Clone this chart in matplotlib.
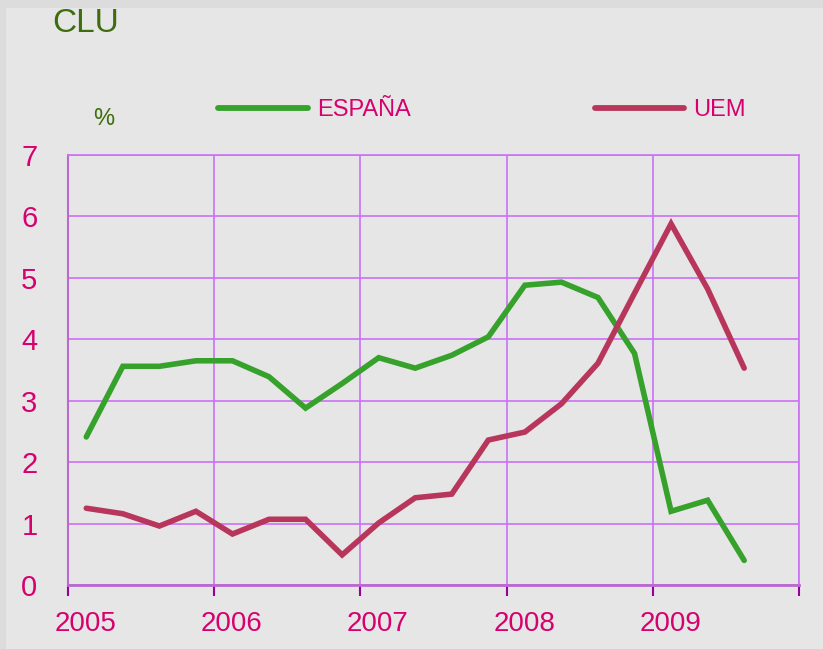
import matplotlib
matplotlib.use("Agg")
from matplotlib import pyplot as plt
from matplotlib.patches import Rectangle
from matplotlib.lines import Line2D
import numpy as np

# quarterly series, centred inside each quarter
quarters = [2005.125 + 0.25 * i for i in range(19)]
espana = [2.41, 3.56, 3.56, 3.65, 3.65, 3.39, 2.88, 3.28, 3.70, 3.53,
          3.74, 4.04, 4.88, 4.93, 4.68, 3.77, 1.20, 1.38, 0.40]
uem = [1.25, 1.16, 0.96, 1.20, 0.83, 1.07, 1.07, 0.49, 1.01, 1.42,
       1.48, 2.36, 2.49, 2.95, 3.61, 4.75, 5.88, 4.82, 3.53]
years = [2005, 2006, 2007, 2008, 2009, 2010]
year_labels = ["2005", "2006", "2007", "2008", "2009", ""]
yticks = [0, 1, 2, 3, 4, 5, 6, 7]

green = "#36a12b"
crimson = "#b8365c"
pink = "#d6006e"
dkgreen = "#3d6e0b"
grid_col = "#cc70f5"

plt.rcParams["font.family"] = ["Liberation Sans", "DejaVu Sans"]

fig = plt.figure(figsize=(8.23, 6.49), dpi=100)
fig.patch.set_facecolor("#e6e6e6")
# darker border strips on top and left
fig.patches.append(Rectangle((0, 1 - 8 / 649), 1, 8 / 649, transform=fig.transFigure,
                             facecolor="#dcdcdc", edgecolor="none", zorder=0))
fig.patches.append(Rectangle((0, 0), 6 / 823, 1, transform=fig.transFigure,
                             facecolor="#dcdcdc", edgecolor="none", zorder=0))

ax = fig.add_axes([68 / 823, 1 - 585 / 649, (799 - 68) / 823, (585 - 155) / 649])
ax.set_facecolor("#e6e6e6")

ax.plot(quarters, espana, color=green, lw=4, solid_capstyle="round",
        solid_joinstyle="miter", zorder=3)
ax.plot(quarters, uem, color=crimson, lw=4, solid_capstyle="round",
        solid_joinstyle="miter", zorder=3)

ax.set_xlim(2005, 2010)
ax.set_ylim(0, 7)

# major ticks carry the grid, minor ticks carry the year labels
ax.set_xticks(years)
ax.set_xticklabels([])
ax.set_xticks([y + 0.12 for y in years[:-1]], minor=True)
ax.set_xticklabels(year_labels[:-1], minor=True)
ax.tick_params(axis="x", which="major", length=8, width=1.5, color="#990099", direction="out")
ax.tick_params(axis="x", which="minor", length=0, pad=19, labelsize=20, labelcolor=pink)

ax.set_yticks(yticks)
ax.set_yticklabels([str(v) for v in yticks])
ax.tick_params(axis="y", length=0, pad=22, labelsize=21, labelcolor=pink)

ax.grid(True, which="major", color=grid_col, lw=1.2)
for side in ["top", "right"]:
    ax.spines[side].set_color(grid_col)
    ax.spines[side].set_linewidth(1.2)
ax.spines["left"].set_color("#b86ad0")
ax.spines["left"].set_linewidth(1.5)
ax.spines["bottom"].set_color("#b86ad0")
ax.spines["bottom"].set_linewidth(2)

fig.text(52 / 823, 1 - 24 / 649, "CLU", color=dkgreen, fontsize=24, va="center", ha="left")
fig.text(93 / 823, 1 - 119 / 649, "%", color=dkgreen, fontsize=17, va="center", ha="left")

handles = [Line2D([], [], color=green, lw=4.2, solid_capstyle="round"),
           Line2D([], [], color=crimson, lw=4.2, solid_capstyle="round")]
leg = fig.legend(handles, ["ESPAÑA", "UEM"], loc="center left",
                 bbox_to_anchor=(218 / 823, 1 - 110 / 649), ncol=2, frameon=False,
                 fontsize=17, handlelength=3.8, handletextpad=0.38, columnspacing=7.8,
                 borderpad=0, borderaxespad=0)
for t in leg.get_texts():
    t.set_color(pink)

fig.savefig("out.png", dpi=100, facecolor=fig.get_facecolor())
